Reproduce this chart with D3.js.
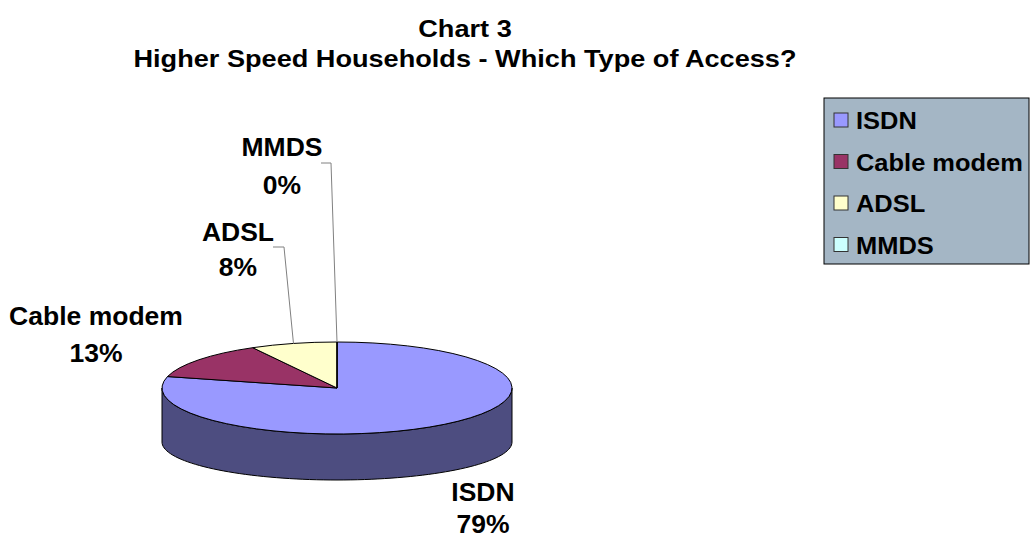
<!DOCTYPE html>
<html>
<head>
<meta charset="utf-8">
<script src="https://cdn.jsdelivr.net/npm/d3@7"></script>
<style>
  html, body { margin: 0; padding: 0; background: #ffffff; }
  svg { display: block; font-family: "Liberation Sans", Arial, sans-serif; }
</style>
</head>
<body>
<svg id="chart" width="1034" height="539"></svg>
<script>
// Data
const categories = ["ISDN", "Cable modem", "ADSL", "MMDS"];
const shares = [79, 13, 8, 0];
const topColors = ["#9999FF", "#993366", "#FFFFCC", "#CCFFFF"];
const sideColors = ["#4D4D80", "#4D1A33", "#80806A", "#668080"];
const titleLines = ["Chart 3", "Higher Speed Households - Which Type of Access?"];

// Layout
const W = 1034, H = 539;
const pieGeom = { cx: 337, cy: 388, rx: 175, ryTop: 46, depth: 54, ryBottom: 38 };
const labelAnchors = [
  { x: 483, y: 492, gap: 32 },
  { x: 96, y: 316, gap: 37 },
  { x: 238, y: 232, gap: 35 },
  { x: 282, y: 147, gap: 38 }
];
const leaders = [
  null,
  null,
  { from: [273, 247], elbow: [284, 247] },
  { from: [321, 163], elbow: [331, 163] }
];
const legendBox = { x: 824, y: 98, w: 205, h: 166, rowH: 41.5, firstY: 120 };
const textStretch = 1.06;
const titleStretch = 1.13;

const svg = d3.select("#chart");

// Slightly widen a text selection horizontally
function stretch(sel, k) {
  sel.each(function () {
    const len = this.getComputedTextLength();
    if (len > 0) {
      d3.select(this)
        .attr("textLength", len * k)
        .attr("lengthAdjust", "spacingAndGlyphs");
    }
  });
}

// Title
const title = svg.append("g").selectAll("text")
  .data(titleLines)
  .join("text")
  .attr("x", 465)
  .attr("y", (d, i) => 37 + i * 30)
  .attr("text-anchor", "middle")
  .attr("font-size", 24)
  .attr("font-weight", "bold")
  .attr("fill", "#000")
  .text(d => d);
stretch(title, titleStretch);

// Pie layout: clockwise from 12 o'clock, in data order
const pie = d3.pie().sort(null).value(d => d.v);
const arcsData = pie(categories.map((c, i) => ({ c, v: shares[i], i })));

const g = svg.append("g");

// Point on an ellipse for a d3 pie angle
function pt(a, cy, ry) {
  return [pieGeom.cx + pieGeom.rx * Math.sin(a), cy - ry * Math.cos(a)];
}

// Side walls (only the front half is visible)
const topCy = pieGeom.cy, botCy = pieGeom.cy + pieGeom.depth;
arcsData.forEach(d => {
  const a0 = Math.max(d.startAngle, Math.PI / 2);
  const a1 = Math.min(d.endAngle, 3 * Math.PI / 2);
  if (a1 <= a0) return;
  const n = 80;
  const angles = d3.range(n + 1).map(k => a0 + (a1 - a0) * k / n);
  const topPts = angles.map(a => pt(a, topCy, pieGeom.ryTop));
  const botPts = angles.slice().reverse().map(a => pt(a, botCy, pieGeom.ryBottom));
  g.append("path")
    .attr("d", d3.line()(topPts.concat(botPts)) + "Z")
    .attr("fill", sideColors[d.data.i])
    .attr("stroke", "#000")
    .attr("stroke-width", 1)
    .attr("stroke-linejoin", "round");
});

// Top face: circular arcs squashed into an ellipse
const arc = d3.arc().innerRadius(0).outerRadius(pieGeom.rx);
g.append("g")
  .attr("transform", `translate(${pieGeom.cx},${pieGeom.cy}) scale(1,${pieGeom.ryTop / pieGeom.rx})`)
  .selectAll("path")
  .data(arcsData)
  .join("path")
  .attr("d", arc)
  .attr("fill", d => topColors[d.data.i])
  .attr("stroke", "#000")
  .attr("stroke-width", 1)
  .attr("vector-effect", "non-scaling-stroke")
  .attr("stroke-linejoin", "round");

// Leader lines for the thin slices
arcsData.forEach(d => {
  const L = leaders[d.data.i];
  if (!L) return;
  const mid = (d.startAngle + d.endAngle) / 2;
  const edge = pt(mid, topCy, pieGeom.ryTop);
  g.append("polyline")
    .attr("points", [L.from, L.elbow, edge].map(p => p.join(",")).join(" "))
    .attr("fill", "none")
    .attr("stroke", "#808080")
    .attr("stroke-width", 1);
});

// Slice labels
const lbl = svg.append("g")
  .attr("font-size", 25)
  .attr("font-weight", "bold")
  .attr("text-anchor", "middle")
  .attr("fill", "#000");
const total = d3.sum(shares);
arcsData.forEach(d => {
  const p = labelAnchors[d.data.i];
  lbl.append("text").attr("x", p.x).attr("y", p.y + 9).text(d.data.c);
  lbl.append("text").attr("x", p.x).attr("y", p.y + 9 + p.gap)
    .text(Math.round(d.data.v / total * 100) + "%");
});
stretch(lbl.selectAll("text"), textStretch);

// Legend
const leg = svg.append("g");
leg.append("rect")
  .attr("x", legendBox.x).attr("y", legendBox.y)
  .attr("width", legendBox.w).attr("height", legendBox.h)
  .attr("fill", "#A4B6C5")
  .attr("stroke", "#000")
  .attr("stroke-width", 1);
const items = leg.selectAll("g.item")
  .data(categories)
  .join("g")
  .attr("class", "item")
  .attr("transform", (d, i) => `translate(${legendBox.x + 10},${legendBox.firstY + i * legendBox.rowH})`);
items.append("rect")
  .attr("x", 0).attr("y", -7)
  .attr("width", 14).attr("height", 14)
  .attr("fill", (d, i) => topColors[i])
  .attr("stroke", "#333")
  .attr("stroke-width", 1);
const legText = items.append("text")
  .attr("x", 22).attr("y", 9)
  .attr("font-size", 24)
  .attr("font-weight", "bold")
  .attr("fill", "#000")
  .text(d => d);
stretch(legText, textStretch);
</script>
</body>
</html>
